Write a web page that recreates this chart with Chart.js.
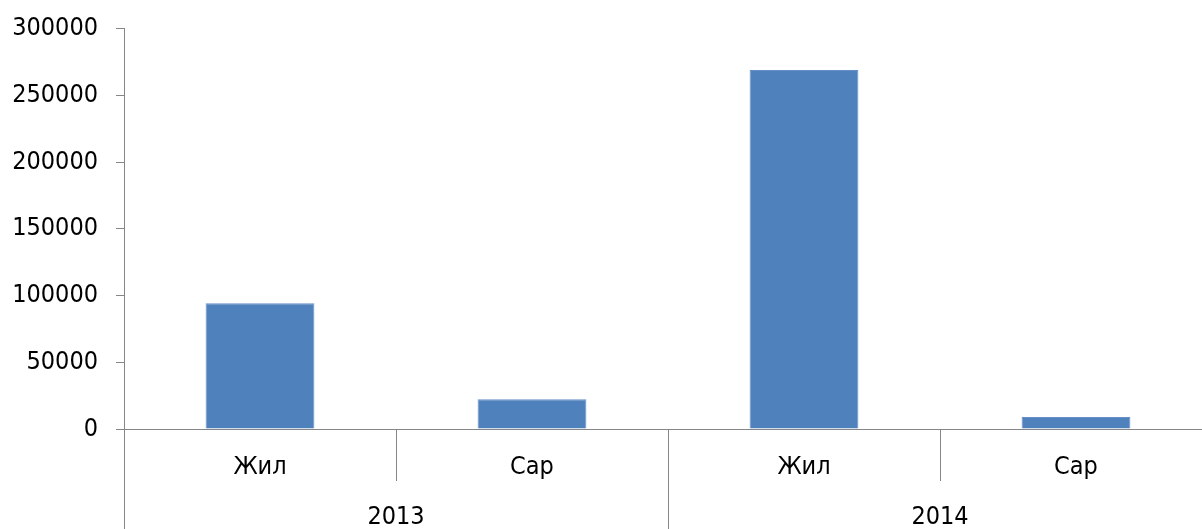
<!DOCTYPE html>
<html>
<head>
<meta charset="utf-8">
<script src="https://cdn.jsdelivr.net/npm/chart.js@4/dist/chart.umd.min.js"></script>
<style>
  html, body { margin: 0; padding: 0; background: #fff; overflow: hidden; }
  #wrap { position: relative; width: 1212px; height: 529px; }
</style>
</head>
<body>
<div id="wrap"><canvas id="barChart"></canvas></div>
<script>
const categories = ['Жил', 'Сар', 'Жил', 'Сар'];
const years = ['2013', '2014'];
const values = [94300, 22300, 269000, 9000];
const yTicks = [0, 50000, 100000, 150000, 200000, 250000, 300000];

const FONT = '"DejaVu Sans Condensed", "DejaVu Sans", sans-serif';
const AXIS = '#868686';

// year groups under the category labels, with separators
const groupAxis = {
    id: 'groupAxis',
    afterDraw(chart) {
        const ctx = chart.ctx;
        const x = chart.scales.x;
        const bottom = chart.height;
        const base = x.top;
        const per = categories.length / years.length;
        const edge = i => (x.getPixelForValue(i - 1) + x.getPixelForValue(i)) / 2;
        ctx.save();
        ctx.strokeStyle = AXIS;
        ctx.lineWidth = 1;
        for (let i = 1; i < categories.length; i++) {
            const px = Math.round(edge(i)) + 0.5;
            ctx.beginPath();
            ctx.moveTo(px, base);
            ctx.lineTo(px, i % per === 0 ? bottom : base + 52);
            ctx.stroke();
        }
        ctx.beginPath();
        ctx.moveTo(Math.round(x.left) + 0.5, base);
        ctx.lineTo(Math.round(x.left) + 0.5, bottom);
        ctx.stroke();
        ctx.fillStyle = '#000';
        ctx.font = '25px ' + FONT;
        ctx.textAlign = 'center';
        ctx.textBaseline = 'middle';
        years.forEach((y, g) => {
            const a = x.getPixelForValue(g * per);
            const b = x.getPixelForValue(g * per + per - 1);
            ctx.fillText(y, (a + b) / 2, base + 88);
        });
        ctx.restore();
    }
};

new Chart(document.getElementById('barChart'), {
    type: 'bar',
    data: {
        labels: categories,
        datasets: [{
            data: values,
            backgroundColor: '#4F81BD',
            borderColor: '#6690C6',
            borderWidth: 1,
            categoryPercentage: 1,
            barPercentage: 0.4
        }]
    },
    options: {
        responsive: true,
        maintainAspectRatio: false,
        animation: false,
        layout: {padding: {top: 20, right: 0, left: 0, bottom: 0}},
        plugins: {legend: {display: false}, tooltip: {enabled: false}},
        scales: {
            x: {
                afterFit: s => { s.height = 100; },
                grid: {display: false},
                border: {color: AXIS, width: 1},
                ticks: {color: '#000', font: {size: 25, family: FONT}, padding: 15, maxRotation: 0}
            },
            y: {
                min: 0,
                max: 300000,
                afterFit: s => { s.width = 124; },
                afterBuildTicks: s => { s.ticks = yTicks.map(v => ({value: v})); },
                grid: {drawOnChartArea: false, color: AXIS, tickLength: 8},
                border: {color: AXIS, width: 1},
                ticks: {
                    color: '#000',
                    font: {size: 25, family: FONT, lineHeight: 0.85},
                    padding: 18,
                    callback: v => String(v)
                }
            }
        }
    },
    plugins: [groupAxis]
});
</script>
</body>
</html>
